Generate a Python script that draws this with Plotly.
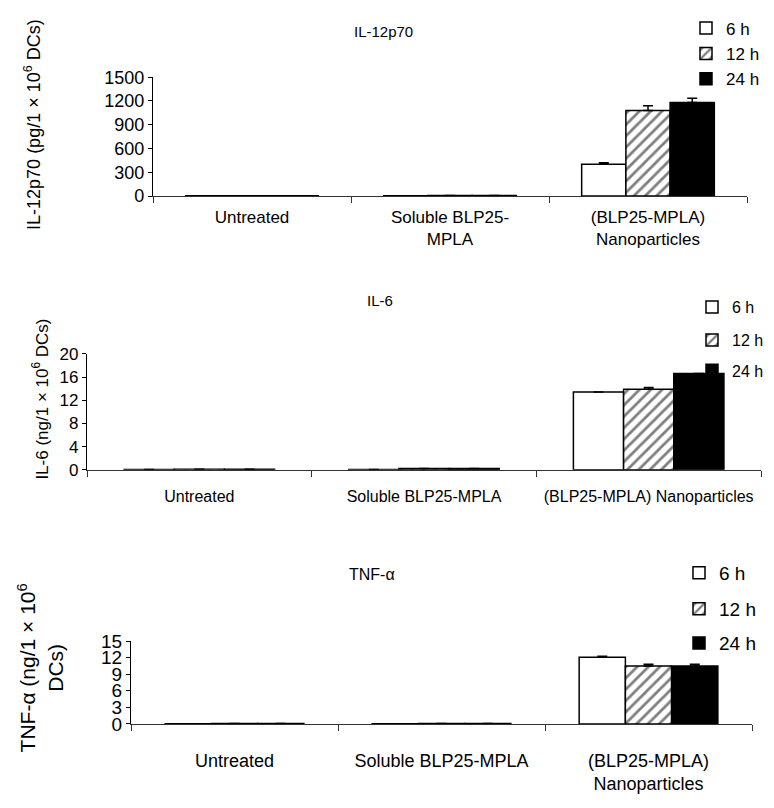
import plotly.graph_objects as go

# ---------------- data ----------------
categories = ["Untreated", "Soluble BLP25-MPLA", "(BLP25-MPLA) Nanoparticles"]
times = ["6 h", "12 h", "24 h"]

il12_6h = [3, 4, 400]
il12_12h = [4, 6, 1080]
il12_24h = [4, 6, 1180]
il12_err_6h = [0, 0, 20]
il12_err_12h = [0, 0, 60]
il12_err_24h = [0, 0, 55]

il6_6h = [0.05, 0.05, 13.4]
il6_12h = [0.1, 0.2, 13.9]
il6_24h = [0.1, 0.2, 16.6]
il6_err_6h = [0, 0, 0]
il6_err_12h = [0, 0, 0.3]
il6_err_24h = [0, 0, 0]

tnf_6h = [0.05, 0.05, 12.1]
tnf_12h = [0.1, 0.1, 10.5]
tnf_24h = [0.1, 0.1, 10.5]
tnf_err_6h = [0, 0, 0.15]
tnf_err_12h = [0, 0, 0.3]
tnf_err_24h = [0, 0, 0.3]

ticktext_1 = ["Untreated", "Soluble BLP25-<br>MPLA", "(BLP25-MPLA)<br>Nanoparticles"]
ticktext_2 = ["Untreated", "Soluble BLP25-MPLA", "(BLP25-MPLA) Nanoparticles"]
ticktext_3 = ["Untreated", "Soluble BLP25-MPLA", "(BLP25-MPLA)<br>Nanoparticles"]

W, H = 774, 808
ARIAL = "Liberation Sans, Arial, sans-serif"
NARROW = "Liberation Sans Narrow, Arial Narrow, Liberation Sans, sans-serif"

def px_x(p):
    return p / W

def px_y(p):
    return 1 - p / H

styles = [
    dict(color="white", pattern=dict(shape="")),
    dict(color="white", pattern=dict(shape="/", fgcolor="black", bgcolor="white", size=8, solidity=0.35)),
    dict(color="black", pattern=dict(shape="")),
]

# legend placement for each panel: (symbol-left x in px, [y px for each item], font)
legend_specs = [
    dict(x=686, ys=[19, 45, 71], font=dict(family=ARIAL, size=17, color="black")),
    dict(x=692, ys=[305, 339, 370], font=dict(family=NARROW, size=16, color="black")),
    dict(x=679, ys=[578, 615, 650], font=dict(family=ARIAL, size=19, color="black")),
]

fig = go.Figure()

panels = [
    dict(vals=[il12_6h, il12_12h, il12_24h], errs=[il12_err_6h, il12_err_12h, il12_err_24h],
         xa="x", ya="y"),
    dict(vals=[il6_6h, il6_12h, il6_24h], errs=[il6_err_6h, il6_err_12h, il6_err_24h],
         xa="x2", ya="y2"),
    dict(vals=[tnf_6h, tnf_12h, tnf_24h], errs=[tnf_err_6h, tnf_err_12h, tnf_err_24h],
         xa="x3", ya="y3"),
]

legend_layout = {}
for pi, p in enumerate(panels):
    for ti, t in enumerate(times):
        st = styles[ti]
        n = pi * 3 + ti + 1
        lname = "legend" if n == 1 else f"legend{n}"
        spec = legend_specs[pi]
        legend_layout[lname] = dict(
            x=px_x(spec["x"]), y=px_y(spec["ys"][ti]), xanchor="left", yanchor="middle",
            font=spec["font"], bgcolor="rgba(0,0,0,0)", itemwidth=30,
        )
        fig.add_trace(go.Bar(
            x=categories, y=p["vals"][ti], name=t,
            xaxis=p["xa"], yaxis=p["ya"], legend=lname,
            marker=dict(color=st["color"], pattern=st["pattern"],
                        line=dict(color="black", width=1.5)),
            error_y=dict(type="data", symmetric=False, array=p["errs"][ti],
                         arrayminus=[0, 0, 0], color="black", thickness=1.5, width=5),
        ))

common_x = dict(type="category", showline=True, linecolor="#333", linewidth=1.2,
                ticks="outside", tickson="boundaries", ticklen=6, tickcolor="#333",
                showgrid=False, zeroline=False, categoryorder="array", categoryarray=categories)
common_y = dict(showline=True, linecolor="black", linewidth=1.2, ticks="outside",
                ticklen=4, tickcolor="black", showgrid=False, zeroline=False)

fig.update_layout(
    width=W, height=H, margin=dict(l=0, r=0, t=0, b=0),
    paper_bgcolor="white", plot_bgcolor="white",
    barmode="group", bargap=0.33, bargroupgap=0,
    xaxis=dict(common_x, domain=[px_x(153), px_x(747)], anchor="y",
               tickvals=categories, ticktext=ticktext_1, ticklabelstandoff=5,
               tickfont=dict(family=ARIAL, size=17, color="black")),
    yaxis=dict(common_y, domain=[px_y(191), px_y(69)], anchor="x", range=[0, 1500], dtick=300,
               tickfont=dict(family=ARIAL, size=18, color="black")),
    xaxis2=dict(common_x, domain=[px_x(87), px_x(761)], anchor="y2",
                tickvals=categories, ticktext=ticktext_2, ticklabelstandoff=12,
                tickfont=dict(family=NARROW, size=16, color="black")),
    yaxis2=dict(common_y, domain=[px_y(472), px_y(353)], anchor="x2", range=[0, 20], dtick=4,
                tickfont=dict(family=NARROW, size=17, color="black")),
    xaxis3=dict(common_x, domain=[px_x(131), px_x(752)], anchor="y3",
                tickvals=categories, ticktext=ticktext_3, ticklabelstandoff=20,
                tickfont=dict(family=NARROW, size=18, color="black")),
    yaxis3=dict(common_y, domain=[px_y(733), px_y(648)], anchor="x3", range=[0, 15], dtick=3,
                tickfont=dict(family=ARIAL, size=19, color="black")),
    showlegend=True,
    **legend_layout,
)

annotations = [
    dict(text="IL-12p70", x=px_x(383), y=px_y(22), font=dict(family=ARIAL, size=15)),
    dict(text="IL-6", x=px_x(380), y=px_y(298), font=dict(family=NARROW, size=15)),
    dict(text="TNF-α", x=px_x(372), y=px_y(580), font=dict(family=NARROW, size=16)),
    dict(text="IL-12p70 (pg/1 × 10<sup>6</sup> DCs)", x=px_x(33), y=px_y(118), textangle=-90,
         font=dict(family=ARIAL, size=18)),
    dict(text="IL-6 (ng/1 × 10<sup>6</sup> DCs)", x=px_x(40), y=px_y(400), textangle=-90,
         font=dict(family=ARIAL, size=17)),
    dict(text="TNF-α (ng/1 × 10<sup>6</sup><br>DCs)", x=px_x(40), y=px_y(676), textangle=-90,
         font=dict(family=ARIAL, size=21)),
]
for a in annotations:
    a.update(xref="paper", yref="paper", showarrow=False, xanchor="center", yanchor="middle")
    a["font"]["color"] = "black"
fig.update_layout(annotations=annotations)

fig.write_html("out.html")
